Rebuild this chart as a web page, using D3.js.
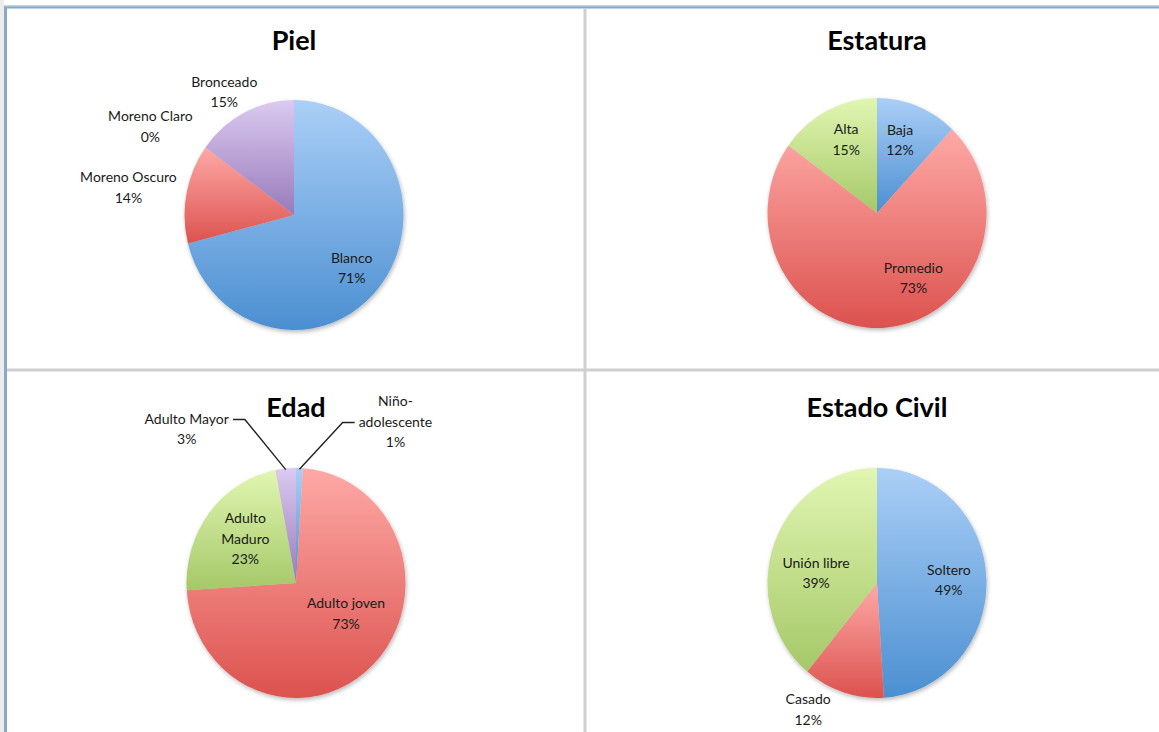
<!DOCTYPE html>
<html>
<head>
<meta charset="utf-8">
<script src="https://cdn.jsdelivr.net/npm/d3@7"></script>
<style>
  html, body { margin: 0; padding: 0; background: #ffffff; }
  svg { display: block; }
  text { font-family: Lato, "Open Sans", "DejaVu Sans", sans-serif; fill: #1a1a1a; }
</style>
</head>
<body>
<svg id="chart" width="1159" height="732"></svg>
<script>
// ---------------- DATA ----------------
const pielCategories = ["Blanco", "Moreno Oscuro", "Moreno Claro", "Bronceado"];
const pielValues = [71, 14, 0, 15];

const estaturaCategories = ["Baja", "Promedio", "Alta"];
const estaturaValues = [12, 73, 15];

const edadCategories = ["Niño-adolescente", "Adulto joven", "Adulto Maduro", "Adulto Mayor"];
const edadValues = [1, 73, 23, 3];

const civilCategories = ["Soltero", "Casado", "Unión libre"];
const civilValues = [49, 12, 39];

const chartTitles = ["Piel", "Estatura", "Edad", "Estado Civil"];

// ---------------- STYLE / LAYOUT ----------------
const palette = {
  blue:   ["#abcff7", "#4b8fd1"],
  red:    ["#fea9a6", "#dc524e"],
  purple: ["#dbcaf0", "#987aba"],
  green:  ["#e1f6b2", "#a5c868"]
};

// each panel: centre, colours, label text lines, label placement (inside/outside + nudge to first baseline)
const panels = [
  {
    title: chartTitles[0], cats: pielCategories, vals: pielValues,
    cx: 294, cy: 215, titleY: 50,
    colors: ["blue", "red", "purple", "purple"],
    lines: [["Blanco"], ["Moreno Oscuro"], ["Moreno Claro"], ["Bronceado"]],
    place: [["in", 4, 4], ["out", -58, -11], ["out", -55, -26], ["out", -20, -26]],
    leaders: [false, false, false, false]
  },
  {
    title: chartTitles[1], cats: estaturaCategories, vals: estaturaValues,
    cx: 877, cy: 213, titleY: 50,
    colors: ["blue", "red", "green"],
    lines: [["Baja"], ["Promedio"], ["Alta"]],
    place: [["in", -2, -12], ["in", 30, -11], ["in", 0, -15]],
    leaders: [false, false, false]
  },
  {
    title: chartTitles[2], cats: edadCategories, vals: edadValues,
    cx: 296, cy: 583, titleY: 417,
    colors: ["blue", "red", "green", "purple"],
    lines: [["Niño-", "adolescente"], ["Adulto joven"], ["Adulto", "Maduro"], ["Adulto Mayor"]],
    place: [["out", 96, -62], ["in", 2, -25], ["in", 3, -16], ["out", -99, -45]],
    leaders: [true, false, false, true]
  },
  {
    title: chartTitles[3], cats: civilCategories, vals: civilValues,
    cx: 877, cy: 583, titleY: 417,
    colors: ["blue", "red", "green"],
    lines: [["Soltero"], ["Casado"], ["Unión libre"]],
    place: [["in", 4, -6], ["out", -35, 12], ["in", 3, 9]],
    leaders: [false, false, false]
  }
];

const rx = 109.5, ry = 115;
const lineH = 20.5;

const svg = d3.select("#chart");
const defs = svg.append("defs");

// gradients
Object.entries(palette).forEach(([name, [c0, c1]]) => {
  const g = defs.append("linearGradient").attr("id", "grad-" + name)
    .attr("x1", 0).attr("y1", 0).attr("x2", 0).attr("y2", 1);
  g.append("stop").attr("offset", "0%").attr("stop-color", c0);
  g.append("stop").attr("offset", "100%").attr("stop-color", c1);
});

// shadow
const f = defs.append("filter").attr("id", "shadow")
  .attr("x", "-20%").attr("y", "-20%").attr("width", "140%").attr("height", "140%");
f.append("feDropShadow").attr("dx", 1).attr("dy", 2).attr("stdDeviation", 2.2)
  .attr("flood-color", "#000").attr("flood-opacity", 0.28);

// ---------------- FRAME ----------------
svg.append("rect").attr("x", 0).attr("y", 0).attr("width", 4).attr("height", 732).attr("fill", "#ececec");
svg.append("line").attr("x1", 4).attr("x2", 1159).attr("y1", 6).attr("y2", 6).attr("stroke", "#9aa6b2").attr("stroke-width", 1);
svg.append("line").attr("x1", 4).attr("x2", 1159).attr("y1", 7.5).attr("y2", 7.5).attr("stroke", "#7fa9d8").attr("stroke-width", 2);
svg.append("line").attr("x1", 4.5).attr("x2", 4.5).attr("y1", 6).attr("y2", 732).attr("stroke", "#9aa6b2").attr("stroke-width", 1);
svg.append("line").attr("x1", 6).attr("x2", 6).attr("y1", 7).attr("y2", 732).attr("stroke", "#7fa9d8").attr("stroke-width", 2);
svg.append("line").attr("x1", 585).attr("x2", 585).attr("y1", 9).attr("y2", 732).attr("stroke", "#cfcfcf").attr("stroke-width", 3);
svg.append("line").attr("x1", 7).attr("x2", 1159).attr("y1", 370).attr("y2", 370).attr("stroke", "#cfcfcf").attr("stroke-width", 3);

// ---------------- PIES ----------------
const pie = d3.pie().sort(null).value(d => d.v);
const arc = d3.arc().innerRadius(0).outerRadius(rx);

panels.forEach(p => {
  const data = p.cats.map((c, i) => ({ c, v: p.vals[i], i }));
  const arcs = pie(data);

  svg.append("text")
    .attr("x", p.cx).attr("y", p.titleY)
    .attr("text-anchor", "middle")
    .attr("font-size", 27).attr("font-weight", 700)
    .style("fill", "#000")
    .text(p.title);

  const g = svg.append("g")
    .attr("transform", `translate(${p.cx},${p.cy}) scale(1,${ry / rx})`)
    .attr("filter", "url(#shadow)");

  g.selectAll("path").data(arcs.filter(a => a.endAngle - a.startAngle > 0)).join("path")
    .attr("d", arc)
    .attr("fill", a => `url(#grad-${p.colors[a.index]})`);

  // labels
  arcs.forEach((a, k) => {
    const mid = (a.startAngle + a.endAngle) / 2;
    const [mode, nx, ny] = p.place[k];
    const fac = mode === "in" ? 0.62 : 1.0;
    const ax = p.cx + fac * rx * Math.sin(mid);
    const ay = p.cy - fac * ry * Math.cos(mid);
    const lx = ax + nx, ly = ay + ny;
    const pct = Math.round(a.data.v) + "%";
    const allLines = p.lines[k].concat([pct]);
    const t = svg.append("text")
      .attr("text-anchor", "middle")
      .attr("font-size", 14);
    allLines.forEach((s, j) => {
      t.append("tspan").attr("x", lx).attr("y", ly + j * lineH).text(s);
    });

    if (p.leaders[k]) {
      const side = Math.sin(mid) >= 0 ? 1 : -1;
      // widest line defines half width
      let hw = 0;
      t.selectAll("tspan").each(function () { hw = Math.max(hw, this.getComputedTextLength() / 2); });
      const row = allLines.length > 2 ? 1 : 0;
      const yh = ly + row * lineH - 4;
      const xEnd = lx - side * (hw + 4);
      const xElbow = lx - side * (hw + 16);
      const ex = p.cx + 0.99 * rx * Math.sin(mid);
      const ey = p.cy - 0.99 * ry * Math.cos(mid);
      svg.append("path")
        .attr("d", d3.line()([[xEnd, yh], [xElbow, yh], [ex, ey]]))
        .attr("fill", "none").attr("stroke", "#222").attr("stroke-width", 1.4);
    }
  });
});
</script>
</body>
</html>
